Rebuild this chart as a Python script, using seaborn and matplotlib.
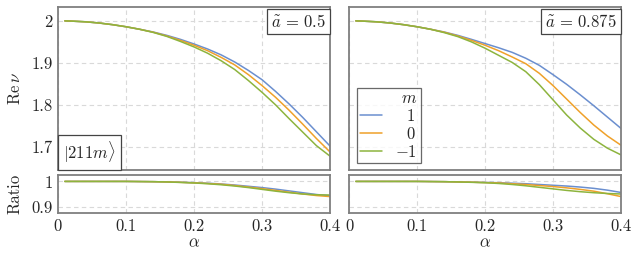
import numpy as np
import pandas as pd
import matplotlib
matplotlib.use("Agg")
import matplotlib.pyplot as plt
import seaborn as sns

sns.set_style("white")
plt.rcParams["font.family"] = "serif"
plt.rcParams["font.serif"] = ["cmr10", "DejaVu Serif"]
plt.rcParams["mathtext.fontset"] = "cm"
plt.rcParams["axes.formatter.use_mathtext"] = True
plt.rcParams["font.size"] = 12

alpha = [0.01, 0.02, 0.04, 0.06, 0.08, 0.10, 0.12, 0.14, 0.16, 0.18, 0.20,
         0.22, 0.24, 0.26, 0.28, 0.30, 0.32, 0.34, 0.36, 0.38, 0.40]
m_labels = ["1", "0", "-1"]

# shared start, alpha 0.01 .. 0.12
nu_early = [2.0, 1.9994, 1.9978, 1.995, 1.991, 1.986, 1.980]

# a = 0.5
nu_05_p1 = nu_early + [1.9735, 1.9655, 1.956, 1.945, 1.933, 1.919, 1.902, 1.882, 1.860, 1.832, 1.802, 1.770, 1.736, 1.702]
nu_05_0 = nu_early + [1.973, 1.964, 1.9535, 1.942, 1.929, 1.913, 1.895, 1.872, 1.846, 1.818, 1.787, 1.754, 1.720, 1.688]
nu_05_m1 = nu_early + [1.9725, 1.963, 1.951, 1.938, 1.923, 1.905, 1.884, 1.858, 1.830, 1.800, 1.767, 1.735, 1.703, 1.678]

# a = 0.875
nu_0875_p1 = nu_early + [1.9735, 1.9655, 1.956, 1.946, 1.936, 1.925, 1.911, 1.894, 1.872, 1.849, 1.824, 1.798, 1.771, 1.744]
nu_0875_0 = nu_early + [1.973, 1.964, 1.9535, 1.942, 1.929, 1.914, 1.898, 1.875, 1.846, 1.814, 1.782, 1.752, 1.726, 1.704]
nu_0875_m1 = nu_early + [1.972, 1.9625, 1.950, 1.935, 1.918, 1.901, 1.879, 1.848, 1.812, 1.776, 1.745, 1.718, 1.697, 1.681]

ratio_early = [1.0, 1.0, 1.0, 1.0, 1.0, 1.0, 0.9995]

ratio_05_p1 = ratio_early + [0.999, 0.998, 0.997, 0.995, 0.993, 0.990, 0.986, 0.981, 0.976, 0.970, 0.963, 0.956, 0.949, 0.944]
ratio_05_0 = ratio_early + [0.999, 0.998, 0.9965, 0.9945, 0.992, 0.989, 0.984, 0.978, 0.972, 0.965, 0.958, 0.951, 0.945, 0.941]
ratio_05_m1 = ratio_early + [0.999, 0.998, 0.996, 0.994, 0.991, 0.987, 0.982, 0.976, 0.969, 0.962, 0.956, 0.951, 0.948, 0.947]

ratio_0875_p1 = ratio_early + [0.999, 0.998, 0.997, 0.996, 0.995, 0.993, 0.991, 0.988, 0.985, 0.982, 0.978, 0.973, 0.966, 0.957]
ratio_0875_0 = ratio_early + [0.999, 0.998, 0.997, 0.9955, 0.994, 0.991, 0.988, 0.984, 0.980, 0.975, 0.969, 0.962, 0.952, 0.941]
ratio_0875_m1 = ratio_early + [0.999, 0.998, 0.9965, 0.995, 0.992, 0.988, 0.983, 0.977, 0.971, 0.965, 0.960, 0.956, 0.953, 0.951]

colors = ["#6b8fcf", "#efa12a", "#8db43e"]
frame_col = "#7f7f7f"


def make_df(series):
    rows = []
    for lab, vals in zip(m_labels, series):
        for a, v in zip(alpha, vals):
            rows.append({"alpha": a, "val": v, "m": lab})
    return pd.DataFrame(rows)


def style_ax(ax):
    ax.grid(True, color="#d9d9d9", linestyle=(0, (4, 3)), linewidth=0.8)
    for s in ax.spines.values():
        s.set_color(frame_col)
        s.set_linewidth(1.3)
    ax.set_xlim(0, 0.4)
    ax.tick_params(length=0, labelsize=12, pad=4)


fig = plt.figure(figsize=(6.44, 2.60), dpi=100)
xl = [58 / 644, 349 / 644]
w = 272 / 644
top_b, top_h = 1 - 170 / 260, 163 / 260
bot_b, bot_h = 1 - 213 / 260, 38 / 260

panels = [
    ([nu_05_p1, nu_05_0, nu_05_m1], [ratio_05_p1, ratio_05_0, ratio_05_m1], r"$\tilde{a}\, =\, 0.5$"),
    ([nu_0875_p1, nu_0875_0, nu_0875_m1], [ratio_0875_p1, ratio_0875_0, ratio_0875_m1], r"$\tilde{a}\, =\, 0.875$"),
]

pal = dict(zip(m_labels, colors))
for i, (nu, ratio, txt) in enumerate(panels):
    ax = fig.add_axes([xl[i], top_b, w, top_h])
    axr = fig.add_axes([xl[i], bot_b, w, bot_h], sharex=ax)
    sns.lineplot(data=make_df(nu), x="alpha", y="val", hue="m", palette=pal,
                 ax=ax, linewidth=1.1, legend=(i == 1))
    sns.lineplot(data=make_df(ratio), x="alpha", y="val", hue="m", palette=pal,
                 ax=axr, linewidth=1.1, legend=False)
    style_ax(ax)
    style_ax(axr)
    ax.set_ylim(1.645, 2.033)
    ax.set_yticks([1.7, 1.8, 1.9, 2.0])
    axr.set_ylim(0.877, 1.025)
    axr.set_yticks([0.9, 1.0])
    axr.set_xticks([0, 0.1, 0.2, 0.3, 0.4])
    axr.set_xticklabels(["0", "0.1", "0.2", "0.3", "0.4"])
    ax.tick_params(labelbottom=False)
    ax.set_xlabel("")
    axr.set_xlabel(r"$\alpha$", fontsize=12, labelpad=1)
    ax.text(0.985, 0.965, txt, transform=ax.transAxes, ha="right", va="top",
            fontsize=12, bbox=dict(boxstyle="square,pad=0.25", fc="white",
                                   ec="#444444", lw=0.9))
    if i == 0:
        ax.set_yticklabels(["1.7", "1.8", "1.9", "2"])
        axr.set_yticklabels(["0.9", "1"])
        ax.set_ylabel(r"$\mathrm{Re}\,\nu$", fontsize=12, labelpad=6)
        axr.set_ylabel("Ratio", fontsize=12, labelpad=6)
        ax.text(0.02, 0.03, r"$|211m\rangle$", transform=ax.transAxes,
                ha="left", va="bottom", fontsize=12,
                bbox=dict(boxstyle="square,pad=0.3", fc="white",
                          ec="#444444", lw=0.9))
    else:
        ax.set_yticklabels([])
        axr.set_yticklabels([])
        ax.set_ylabel("")
        axr.set_ylabel("")
        handles, labels = ax.get_legend_handles_labels()
        # pad the positive labels so the digits line up on the right
        labels = [r"$\hspace{0.78}1$", r"$\hspace{0.78}0$", "$-1$"]
        leg = ax.legend(handles, labels, title=r"$m$", loc="lower left",
                        bbox_to_anchor=(0.03, 0.04), frameon=True,
                        fancybox=False, edgecolor="#444444", fontsize=12,
                        title_fontsize=12,
                        handlelength=1.3, handletextpad=0.8,
                        borderpad=0.2, borderaxespad=0.0,
                        labelspacing=0.12, alignment="right")
        leg.get_frame().set_linewidth(0.9)

fig.savefig("out.png", dpi=100)
